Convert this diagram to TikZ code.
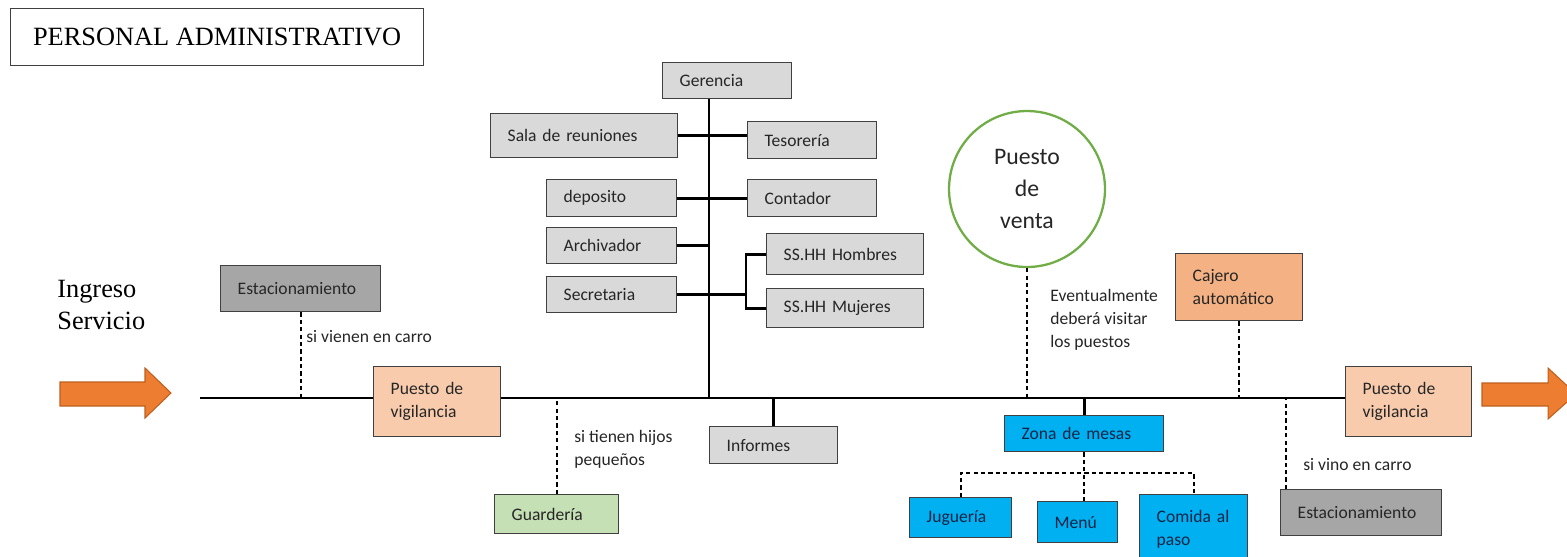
\documentclass[tikz,border=0pt]{standalone}
\usepackage{fontspec}
\setmainfont{Carlito}
\newfontfamily\serifttl{Liberation Serif}
\definecolor{figedge}{RGB}{64,64,64}
\definecolor{figtext}{RGB}{38,38,38}
\definecolor{parkgray}{RGB}{166,166,166}
\definecolor{roomgray}{RGB}{217,217,217}
\definecolor{guardpeach}{RGB}{248,203,173}
\definecolor{cashorange}{RGB}{244,177,131}
\definecolor{kidgreen}{RGB}{197,224,180}
\definecolor{foodblue}{RGB}{0,176,240}
\definecolor{foodtext}{RGB}{16,36,70}
\definecolor{flowarrow}{RGB}{237,125,49}
\definecolor{flowedge}{RGB}{190,95,30}
\definecolor{salegreen}{RGB}{112,173,71}

\begin{document}
\begin{tikzpicture}[x=0.02cm, y=-0.02cm,
  font=\fontsize{10}{13}\selectfont, text=figtext,
  room/.style={draw=figedge, line width=0.8pt, anchor=north west, align=left,
    inner xsep=0.34cm, inner ysep=0pt},
  lbl/.style={anchor=west, align=left, inner sep=0pt},
  road/.style={line width=1.6pt, black},
  dsh/.style={line width=1pt, black, dash pattern=on 2.4pt off 1.8pt},
  flow/.style={fill=flowarrow, draw=flowedge, line width=0.6pt}]
  \useasboundingbox (0,0) rectangle (1567,556);

  \coordinate (lineL) at (200,398);
  \coordinate (lineR) at (1472,398);
  \coordinate (trunk) at (709,398);
  \coordinate (ssbr) at (746,289);
  \coordinate (fork) at (1082,473);

  \draw[flow] (60,382) -- (145,382) -- (145,368) -- (171,393) -- (145,418)
    -- (145,406) -- (60,406) -- cycle;
  \draw[flow] (1482,383) -- (1548,383) -- (1548,368) -- (1576,394) -- (1548,419)
    -- (1548,406) -- (1482,406) -- cycle;
  \draw[road] (lineL) -- (lineR);

  \node[draw=figedge, line width=0.8pt, anchor=north west, minimum width=8.26cm,
    minimum height=1.14cm, text=black,
    font=\serifttl\fontsize{15}{18}\selectfont] (title) at (10,8)
    {PERSONAL ADMINISTRATIVO};
  \node[lbl, text=black, font=\serifttl\fontsize{15}{18.7}\selectfont]
    (ingreso) at (57,305) {Ingreso\\Servicio};

  \node[room, fill=parkgray, minimum height=0.92cm, text width=2.52cm]
    (estL) at (220,265) {Estacionamiento};
  \node[room, fill=guardpeach, minimum height=1.40cm, text width=1.86cm]
    (vigL) at (373,366) {Puesto de\\vigilancia};
  \node[room, fill=kidgreen, minimum height=0.78cm, text width=1.80cm]
    (guard) at (494,494) {Guardería};
  \node[room, fill=roomgray, minimum height=0.74cm, text width=1.88cm]
    (inf) at (709,426) {Informes};

  \node[room, fill=roomgray, minimum height=0.72cm, text width=1.90cm]
    (ger) at (662,62) {Gerencia};
  \node[room, fill=roomgray, minimum height=0.88cm, text width=3.06cm]
    (sala) at (490,113) {Sala de reuniones};
  \node[room, fill=roomgray, minimum height=0.74cm, text width=1.90cm]
    (teso) at (747,121) {Tesorería};
  \node[room, fill=roomgray, minimum height=0.74cm, text width=1.92cm]
    (dep) at (546,179) {deposito};
  \node[room, fill=roomgray, minimum height=0.74cm, text width=1.90cm]
    (cont) at (747,179) {Contador};
  \node[room, fill=roomgray, minimum height=0.72cm, text width=1.92cm]
    (arch) at (546,227) {Archivador};
  \node[room, fill=roomgray, minimum height=0.72cm, text width=1.92cm]
    (secr) at (546,276) {Secretaria};
  \node[room, fill=roomgray, minimum height=0.82cm, text width=2.46cm]
    (hom) at (766,233) {SS.HH Hombres};
  \node[room, fill=roomgray, minimum height=0.78cm, text width=2.46cm]
    (muj) at (766,288) {SS.HH Mujeres};

  \node[circle, draw=salegreen, line width=1.3pt, fill=white, minimum size=3.12cm,
    inner sep=0pt, align=center, font=\fontsize{13.5}{18}\selectfont]
    (venta) at (1027,189) {Puesto\\de\\venta};
  \node[room, fill=cashorange, minimum height=1.34cm, text width=1.86cm]
    (caj) at (1175,253) {Cajero\\automático};

  \node[room, fill=foodblue, text=foodtext, minimum height=0.72cm, text width=2.50cm]
    (zona) at (1004,415) {Zona de mesas};
  \node[room, fill=foodblue, text=foodtext, minimum height=0.80cm, text width=1.36cm]
    (jug) at (909,497) {Juguería};
  \node[room, fill=foodblue, text=foodtext, minimum height=0.82cm, text width=0.92cm]
    (menu) at (1037,501) {Menú};
  \node[room, fill=foodblue, text=foodtext, minimum height=1.40cm, text width=1.48cm]
    (com) at (1139,494) {Comida al\\paso};

  \node[room, fill=guardpeach, minimum height=1.40cm, text width=1.84cm]
    (vigR) at (1345,366) {Puesto de\\vigilancia};
  \node[room, fill=parkgray, minimum height=0.92cm, text width=2.54cm]
    (estR) at (1280,489) {Estacionamiento};

  \node[lbl] (carroL) at (306,337) {si vienen en carro};
  \node[lbl] (hijos) at (574,449) {si tienen hijos\\pequeños};
  \node[lbl] (visita) at (1050,320) {Eventualmente\\deberá visitar\\los puestos};
  \node[lbl] (carroR) at (1303,465) {si vino en carro};

  \draw[road] (trunk |- ger.south) -- (trunk);
  \draw[road] (sala.east) -- (sala.east -| teso.west);
  \draw[road] (dep) -- (cont);
  \draw[road] (arch.east) -- (arch.east -| trunk);
  \draw[road] (secr.east) -- (secr.east -| ssbr);
  \draw[road] (hom.west) -- (hom.west -| ssbr) -- (muj.west -| ssbr) -- (muj.west);
  \draw[road] (inf.north) -- (inf.north |- lineL);
  \draw[road] (zona.north) -- (zona.north |- lineL);

  \draw[dsh] (estL.south) -- (estL.south |- lineL);
  \draw[dsh] (guard.north) -- (guard.north |- lineL);
  \draw[dsh] (venta.south) -- (venta.south |- lineL);
  \draw[dsh] (caj.south) -- (caj.south |- lineL);
  \draw[dsh] (zona.south) -- (zona.south |- menu.north);
  \draw[dsh] (jug.north) |- (fork) -| (com.north);
  \coordinate (estRtop) at ([xshift=0.12cm]estR.north west);
  \draw[dsh] (estRtop) -- (estRtop |- lineL);
\end{tikzpicture}
\end{document}
